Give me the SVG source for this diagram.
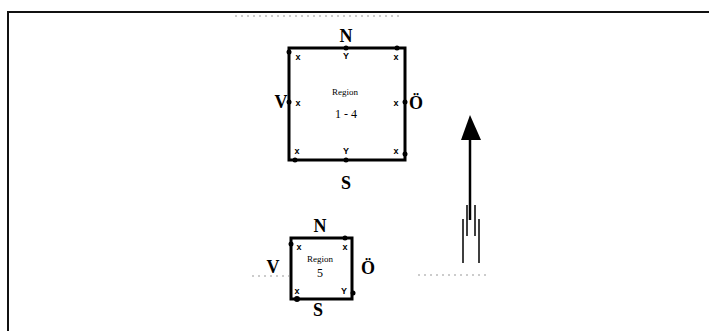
<svg xmlns="http://www.w3.org/2000/svg" width="709" height="331" viewBox="0 0 709 331">
<style>
.frame{stroke:#111;stroke-width:2;fill:none}
.box{stroke:#000;stroke-width:3;fill:none}
.dot{fill:#000}
.dir{font-family:"Liberation Serif",serif;font-weight:bold;font-size:18px;fill:#000;text-anchor:middle}
.mk{font-family:"Liberation Sans",sans-serif;font-weight:bold;font-size:9px;fill:#000;text-anchor:middle}
.lbl{font-family:"Liberation Serif",serif;font-size:9px;fill:#000;text-anchor:middle}
.num{font-family:"Liberation Serif",serif;font-size:12px;fill:#000;text-anchor:middle}
.noise{stroke:#999;stroke-width:1;stroke-dasharray:2 4;fill:none}
</style>
<rect width="709" height="331" fill="#fff"/>
<g id="frame">
<path class="frame" d="M8,331 V12 H709"/>
<path class="noise" d="M235,16 H400"/>
</g>
<g id="region14">
<rect class="box" x="289" y="48" width="116" height="112"/>
<circle class="dot" cx="289" cy="52" r="2.5"/>
<circle class="dot" cx="346" cy="48" r="2.5"/>
<circle class="dot" cx="397" cy="48" r="2.5"/>
<circle class="dot" cx="289" cy="102" r="2.5"/>
<circle class="dot" cx="405" cy="102" r="2.5"/>
<circle class="dot" cx="295" cy="160" r="2.5"/>
<circle class="dot" cx="346" cy="160" r="2.5"/>
<circle class="dot" cx="405" cy="154" r="2.5"/>
<text class="mk" x="298" y="60">x</text>
<text class="mk" x="346" y="59">Y</text>
<text class="mk" x="396" y="60">x</text>
<text class="mk" x="298" y="106">x</text>
<text class="mk" x="396" y="106">x</text>
<text class="mk" x="297" y="154">x</text>
<text class="mk" x="346" y="154">Y</text>
<text class="mk" x="396" y="154">x</text>
<text class="dir" x="346" y="42">N</text>
<text class="dir" x="281" y="108">V</text>
<text class="dir" x="416" y="109">Ö</text>
<text class="dir" x="346" y="189">S</text>
<text class="lbl" x="345" y="95">Region</text>
<text class="num" x="346" y="118">1 - 4</text>
</g>
<g id="region5">
<rect class="box" x="291" y="238" width="61" height="61"/>
<circle class="dot" cx="291" cy="244" r="2.5"/>
<circle class="dot" cx="345" cy="238" r="2.5"/>
<circle class="dot" cx="353" cy="293" r="2.5"/>
<circle class="dot" cx="297" cy="299" r="3"/>
<text class="mk" x="299" y="250">x</text>
<text class="mk" x="345" y="250">x</text>
<text class="mk" x="297" y="294">x</text>
<text class="mk" x="344" y="294">Y</text>
<text class="dir" x="320" y="232">N</text>
<text class="dir" x="273" y="273">V</text>
<text class="dir" x="368" y="274">Ö</text>
<text class="dir" x="318" y="316">S</text>
<text class="lbl" x="320" y="262">Region</text>
<text class="num" x="320" y="277">5</text>
</g>
<g id="connectors">
<path class="noise" d="M252,276 H289"/>
<path class="noise" d="M418,275 H487"/>
</g>
<g id="arrow">
<path d="M470,220 V138" stroke="#000" stroke-width="2.5" fill="none"/>
<polygon points="470,115 461,140 481,140" fill="#000"/>
<path d="M467,205 V236 M475,205 V236 M463,219 V263 M479,219 V263" stroke="#000" stroke-width="1.5" fill="none"/>
</g>
</svg>
